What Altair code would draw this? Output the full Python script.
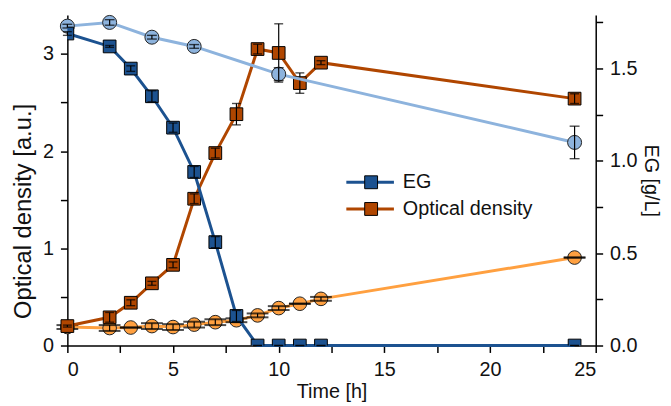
import altair as alt
import pandas as pd

# ---- data ----
t = [0, 2, 3, 4, 5, 6, 7, 8, 9, 10, 11, 12, 24]
od = [0.20, 0.29, 0.44, 0.64, 0.83, 1.51, 1.98, 2.38, 3.05, 3.01, 2.70, 2.91, 2.54]
od_err = [0.01, 0.05, 0.03, 0.02, 0.03, 0.05, 0.05, 0.11, 0.05, 0.30, 0.105, 0.02, 0.05]
eg = [1.69, 1.62, 1.50, 1.35, 1.18, 0.94, 0.56, 0.16, 0.0, 0.0, 0.0, 0.0, 0.0]
eg_err = [0.01, 0.005, 0.015, 0.03, 0.025, 0.03, 0.03, 0.03, 0.0, 0.0, 0.0, 0.0, 0.0]

t_ctrl_eg = [0, 2, 4, 6, 10, 24]
ctrl_eg = [1.73, 1.75, 1.67, 1.62, 1.47, 1.10]
ctrl_eg_err = [0.01, 0.015, 0.01, 0.01, 0.035, 0.088]

t_ctrl_od = [0, 2, 3, 4, 5, 6, 7, 8, 9, 10, 11, 12, 24]
ctrl_od = [0.19, 0.18, 0.185, 0.20, 0.19, 0.215, 0.24, 0.26, 0.31, 0.385, 0.43, 0.48, 0.905]
ctrl_od_err = [0.02, 0.03, 0.0, 0.03, 0.03, 0.03, 0.03, 0.02, 0.02, 0.02, 0.0, 0.02, 0.0]

series_names = ["EG", "Optical density"]
x_ticks = [0, 2.5, 5, 7.5, 10, 12.5, 15, 17.5, 20, 22.5, 25]
left_ticks = [0, 0.5, 1.0, 1.5, 2.0, 2.5, 3.0]
right_ticks = [0, 0.25, 0.5, 0.75, 1.0, 1.25, 1.5, 1.75]

# line-legend keys differ by a trailing space so Vega-Lite does not merge the two legends
line_keys = [s + " " for s in series_names]


def frame(tt, v, e, name):
    return pd.DataFrame({
        "t": tt, "v": v,
        "lo": [a - b for a, b in zip(v, e)],
        "hi": [a + b for a, b in zip(v, e)],
        "series": name + " ",
        "entry": name,
    })


def caps(df):
    return pd.concat([df.assign(c=df["lo"]), df.assign(c=df["hi"])], ignore_index=True)


df_od = frame(t, od, od_err, "Optical density")
df_eg = frame(t, eg, eg_err, "EG")
df_ceg = frame(t_ctrl_eg, ctrl_eg, ctrl_eg_err, "EG control")
df_cod = frame(t_ctrl_od, ctrl_od, ctrl_od_err, "OD control")

FONT = "Liberation Sans"
TXT = "#111111"
C_DB = "#1c5290"
C_DO = "#b04600"
C_LB = "#8db3dd"
C_LO = "#ffa040"

X = alt.X("t:Q", scale=alt.Scale(domain=[0, 25], nice=False),
          axis=alt.Axis(title="Time [h]", values=x_ticks, titlePadding=3,
                        labelExpr="datum.value % 5 === 0 ? datum.label : ''"))

L_SCALE = alt.Scale(domain=[0, 3.4], nice=False, zero=True)
L_AXIS = alt.Axis(title="Optical density [a.u.]", values=left_ticks, orient="left",
                  titlePadding=7, titleFontSize=24, titleY=198,
                  labelExpr="datum.value % 1 === 0 ? format(datum.value, 'd') : ''")
R_SCALE = alt.Scale(domain=[0, 1.79], nice=False, zero=True)
R_AXIS = alt.Axis(title="EG [g/L]", values=right_ticks, orient="right",
                  titlePadding=4,
                  labelExpr="datum.value % 0.5 === 0 ? format(datum.value, '.1f') : ''")


def YL(f):
    return alt.Y(f"{f}:Q", scale=L_SCALE, axis=L_AXIS, title="Optical density [a.u.]")


def YR(f):
    return alt.Y(f"{f}:Q", scale=R_SCALE, axis=R_AXIS, title="EG [g/L]")


line_scale = alt.Scale(domain=line_keys, range=[C_DB, C_DO])
fill_scale = alt.Scale(domain=series_names, range=[C_DB, C_DO])
legend_lines = alt.Legend(orient="none", legendX=296, legendY=159, title=None,
                          symbolType="M-3.7,0H3.7", symbolSize=169, symbolStrokeWidth=3,
                          labelOpacity=0, labelFontSize=20, labelOffset=22,
                          rowPadding=7, padding=0)
legend_squares = alt.Legend(orient="none", legendX=297, legendY=159, title=None,
                            symbolType="square", symbolSize=169, symbolStrokeColor="black",
                            symbolStrokeWidth=1, symbolOpacity=1,
                            labelFontSize=20, labelOffset=22, labelColor=TXT,
                            labelFont=FONT, rowPadding=7, padding=0)


def errbars(df, Y, cap_w, cap_th=1.4):
    rule = alt.Chart(df).mark_rule(color="black", strokeWidth=1.2).encode(
        x=X, y=Y("lo"), y2=alt.Y2("hi:Q"))
    tick = alt.Chart(caps(df)).mark_tick(color="black", thickness=cap_th, size=cap_w,
                                         orient="horizontal").encode(x=X, y=Y("c"))
    return rule + tick


# left group (optical density)
cod_line = alt.Chart(df_cod).mark_line(color=C_LO, strokeWidth=3).encode(x=X, y=YL("v"))
cod_pts = alt.Chart(df_cod).mark_circle(size=190, color=C_LO, stroke="#222", strokeWidth=1,
                                        opacity=1).encode(x=X, y=YL("v"))
cod_err = errbars(df_cod, YL, 22, 2)

od_line = alt.Chart(df_od).mark_line(strokeWidth=3).encode(
    x=X, y=YL("v"), color=alt.Color("series:N", scale=line_scale, legend=legend_lines))
od_pts = alt.Chart(df_od).mark_square(size=165, stroke="black", strokeWidth=1, opacity=1).encode(
    x=X, y=YL("v"), fill=alt.Fill("entry:N", scale=fill_scale, legend=legend_squares))
od_err = errbars(df_od, YL, 9)

left = alt.layer(cod_line, cod_pts, cod_err, od_line, od_pts, od_err)

# right group (EG)
ceg_line = alt.Chart(df_ceg).mark_line(color=C_LB, strokeWidth=3).encode(x=X, y=YR("v"))
ceg_pts = alt.Chart(df_ceg).mark_circle(size=200, color=C_LB, stroke="#222", strokeWidth=1,
                                        opacity=1).encode(x=X, y=YR("v"))
ceg_err = errbars(df_ceg, YR, 10)

eg_line = alt.Chart(df_eg).mark_line(strokeWidth=3).encode(
    x=X, y=YR("v"), color=alt.Color("series:N", scale=line_scale, legend=legend_lines))
eg_pts = alt.Chart(df_eg).mark_square(size=165, stroke="black", strokeWidth=1, opacity=1,
                                      clip=True).encode(
    x=X, y=YR("v"), fill=alt.Fill("entry:N", scale=fill_scale, legend=legend_squares))
eg_err = errbars(df_eg, YR, 9)

right = alt.layer(ceg_line, ceg_pts, ceg_err, eg_line, eg_pts, eg_err)

chart = alt.layer(left, right).resolve_scale(y="independent").properties(
    width=534, height=334,
    autosize=alt.AutoSizeParams(type="none"),
    padding={"left": 60, "top": 5, "right": 68, "bottom": 58},
).configure_view(stroke=None).configure_axis(
    grid=False, domainColor="black", tickColor="black", domainWidth=1.5, tickWidth=1.5,
    tickSize=7, labelColor=TXT, titleColor=TXT, labelFont=FONT, titleFont=FONT,
    labelFontSize=20, titleFontSize=20, titleFontWeight="normal", labelPadding=7,
).configure_legend(labelFont=FONT, labelFontSize=20, labelColor=TXT)

chart.save("out.html", embed_options={"renderer": "svg", "actions": False})
